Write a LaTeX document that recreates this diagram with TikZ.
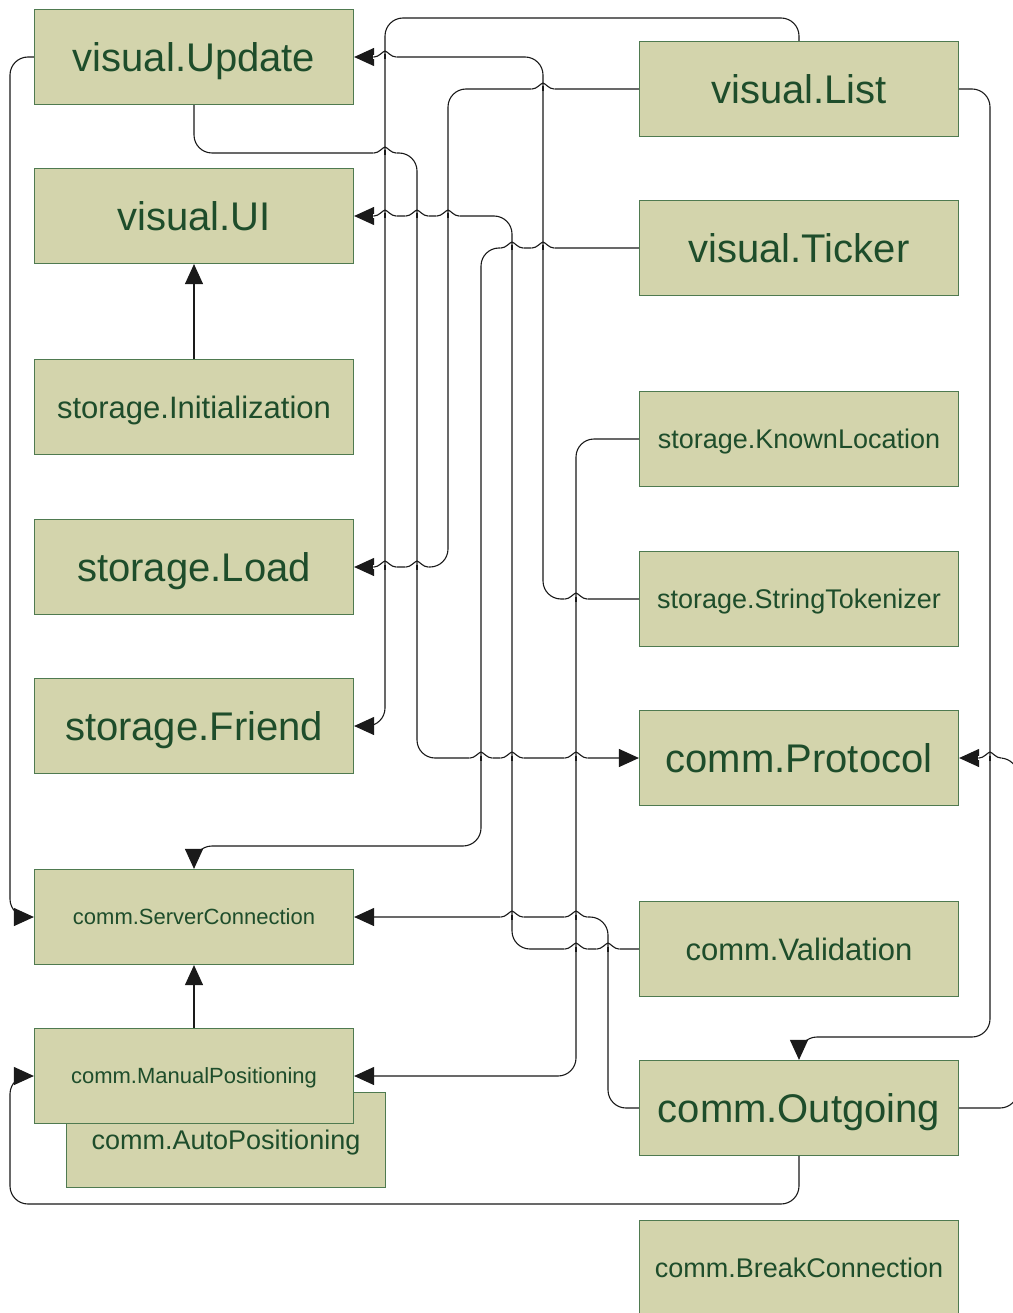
\documentclass[tikz,border=0pt]{standalone}
\usepackage{fontspec}
\setmainfont{Liberation Sans}
\usetikzlibrary{arrows.meta}

\definecolor{boxfill}{HTML}{D3D4AC}
\definecolor{boxline}{HTML}{4F7A50}
\definecolor{boxtext}{HTML}{1E4D2B}
\definecolor{wire}{HTML}{1A1A1A}

\newcommand\fsbig{\fontsize{40}{48}\selectfont}
\newcommand\fsmid{\fontsize{31}{37}\selectfont}
\newcommand\fsmed{\fontsize{27}{32}\selectfont}
\newcommand\fssml{\fontsize{22}{26}\selectfont}

\tikzset{
  box/.style={draw=boxline, fill=boxfill, line width=1.2pt, text=boxtext,
    minimum width=319pt, minimum height=95pt, inner sep=0pt, text depth=0pt},
  wireline/.style={draw=wire, line width=1.1pt},
  link/.style={wireline, rounded corners=18pt, -{Triangle[length=20pt,width=18pt]}},
}

% line jump of a horizontal wire at y=#2 over a vertical wire at x=#1
\newcommand\hop[2]{%
  \fill[white] (#1-11.6,#2-1.6) rectangle (#1+11.6,#2+1.6);
  \draw[wireline] (#1,#2-2.5) -- (#1,#2+2.5);
  \draw[wireline] (#1-11.6,#2) -- (#1-11,#2) .. controls (#1-6,#2) and (#1-2.5,#2-5.5) .. (#1,#2-6)
     .. controls (#1+2.5,#2-5.5) and (#1+6,#2) .. (#1+11,#2) -- (#1+11.6,#2);}

\begin{document}
\begin{tikzpicture}[x=1pt, y=-1pt]
\fill[white] (0,0) rectangle (1012,1313);
\useasboundingbox (0,0) rectangle (1012,1313);

% left column
\node[box, font=\fsbig] (up)  at (194,57)   {visual.Update};
\node[box, font=\fsbig] (ui)  at (194,216)  {visual.UI};
\node[box, font=\fsmid] (ini) at (194,407)  {storage.Initialization};
\node[box, font=\fsbig] (lo)  at (194,567)  {storage.Load};
\node[box, font=\fsbig] (fri) at (194,726)  {storage.Friend};
\node[box, font=\fssml] (sc)  at (194,917)  {comm.ServerConnection};
\node[box, font=\fsmed] (ap)  at (226,1140) {comm.AutoPositioning};
\node[box, font=\fssml] (mp)  at (194,1076) {comm.ManualPositioning};

% right column
\node[box, font=\fsbig] (vl)  at (799,89)   {visual.List};
\node[box, font=\fsbig] (tic) at (799,248)  {visual.Ticker};
\node[box, font=\fsmed] (kl)  at (799,439)  {storage.KnownLocation};
\node[box, font=\fsmed] (tok) at (799,599)  {storage.StringTokenizer};
\node[box, font=\fsbig] (pro) at (799,758)  {comm.Protocol};
\node[box, font=\fsmid] (val) at (799,949)  {comm.Validation};
\node[box, font=\fsbig] (out) at (799,1108) {comm.Outgoing};
\node[box, font=\fsmed] (brk) at (799,1268) {comm.BreakConnection};

% connectors
\draw[link] (vl.north) -- (799,18) -- (385,18) -- (385,726) -- (fri.east);
\draw[link] (tok.west) -- (543,599) -- (543,57) -- (up.east);
\draw[link] (vl.west) -- (448,89) -- (448,567) -- (lo.east);
\draw[link] (up.south) -- (194,153) -- (417,153) -- (417,758) -- (pro.west);
\draw[link] (val.west) -- (512,949) -- (512,216) -- (ui.east);
\draw[link] (tic.west) -- (481,248) -- (481,846) -- (194,846) -- (sc.north);
\draw[link] (kl.west) -- (576,439) -- (576,1076) -- (mp.east);
\draw[link] (out.west) -- (608,1108) -- (608,917) -- (sc.east);
\draw[link] (vl.east) -- (990,89) -- (990,1037) -- (799,1037) -- (out.north);
\draw[link] (out.east) -- (1018,1108) -- (1018,758) -- (pro.east);
\draw[link] (out.south) -- (799,1204) -- (10,1204) -- (10,1076) -- (mp.west);
\draw[link] (up.west) -- (10,57) -- (10,917) -- (sc.west);
\draw[link] (ini.north) -- (ui.south);
\draw[link] (mp.north) -- (sc.south);

% line jumps where horizontal runs cross vertical runs
\hop{385}{57}
\hop{543}{89}
\hop{385}{153}
\hop{385}{216} \hop{417}{216} \hop{448}{216}
\hop{512}{248} \hop{543}{248}
\hop{385}{567} \hop{417}{567}
\hop{576}{599}
\hop{481}{758} \hop{512}{758} \hop{576}{758}
\hop{990}{758}
\hop{512}{917} \hop{576}{917}
\hop{576}{949} \hop{608}{949}
\end{tikzpicture}
\end{document}
